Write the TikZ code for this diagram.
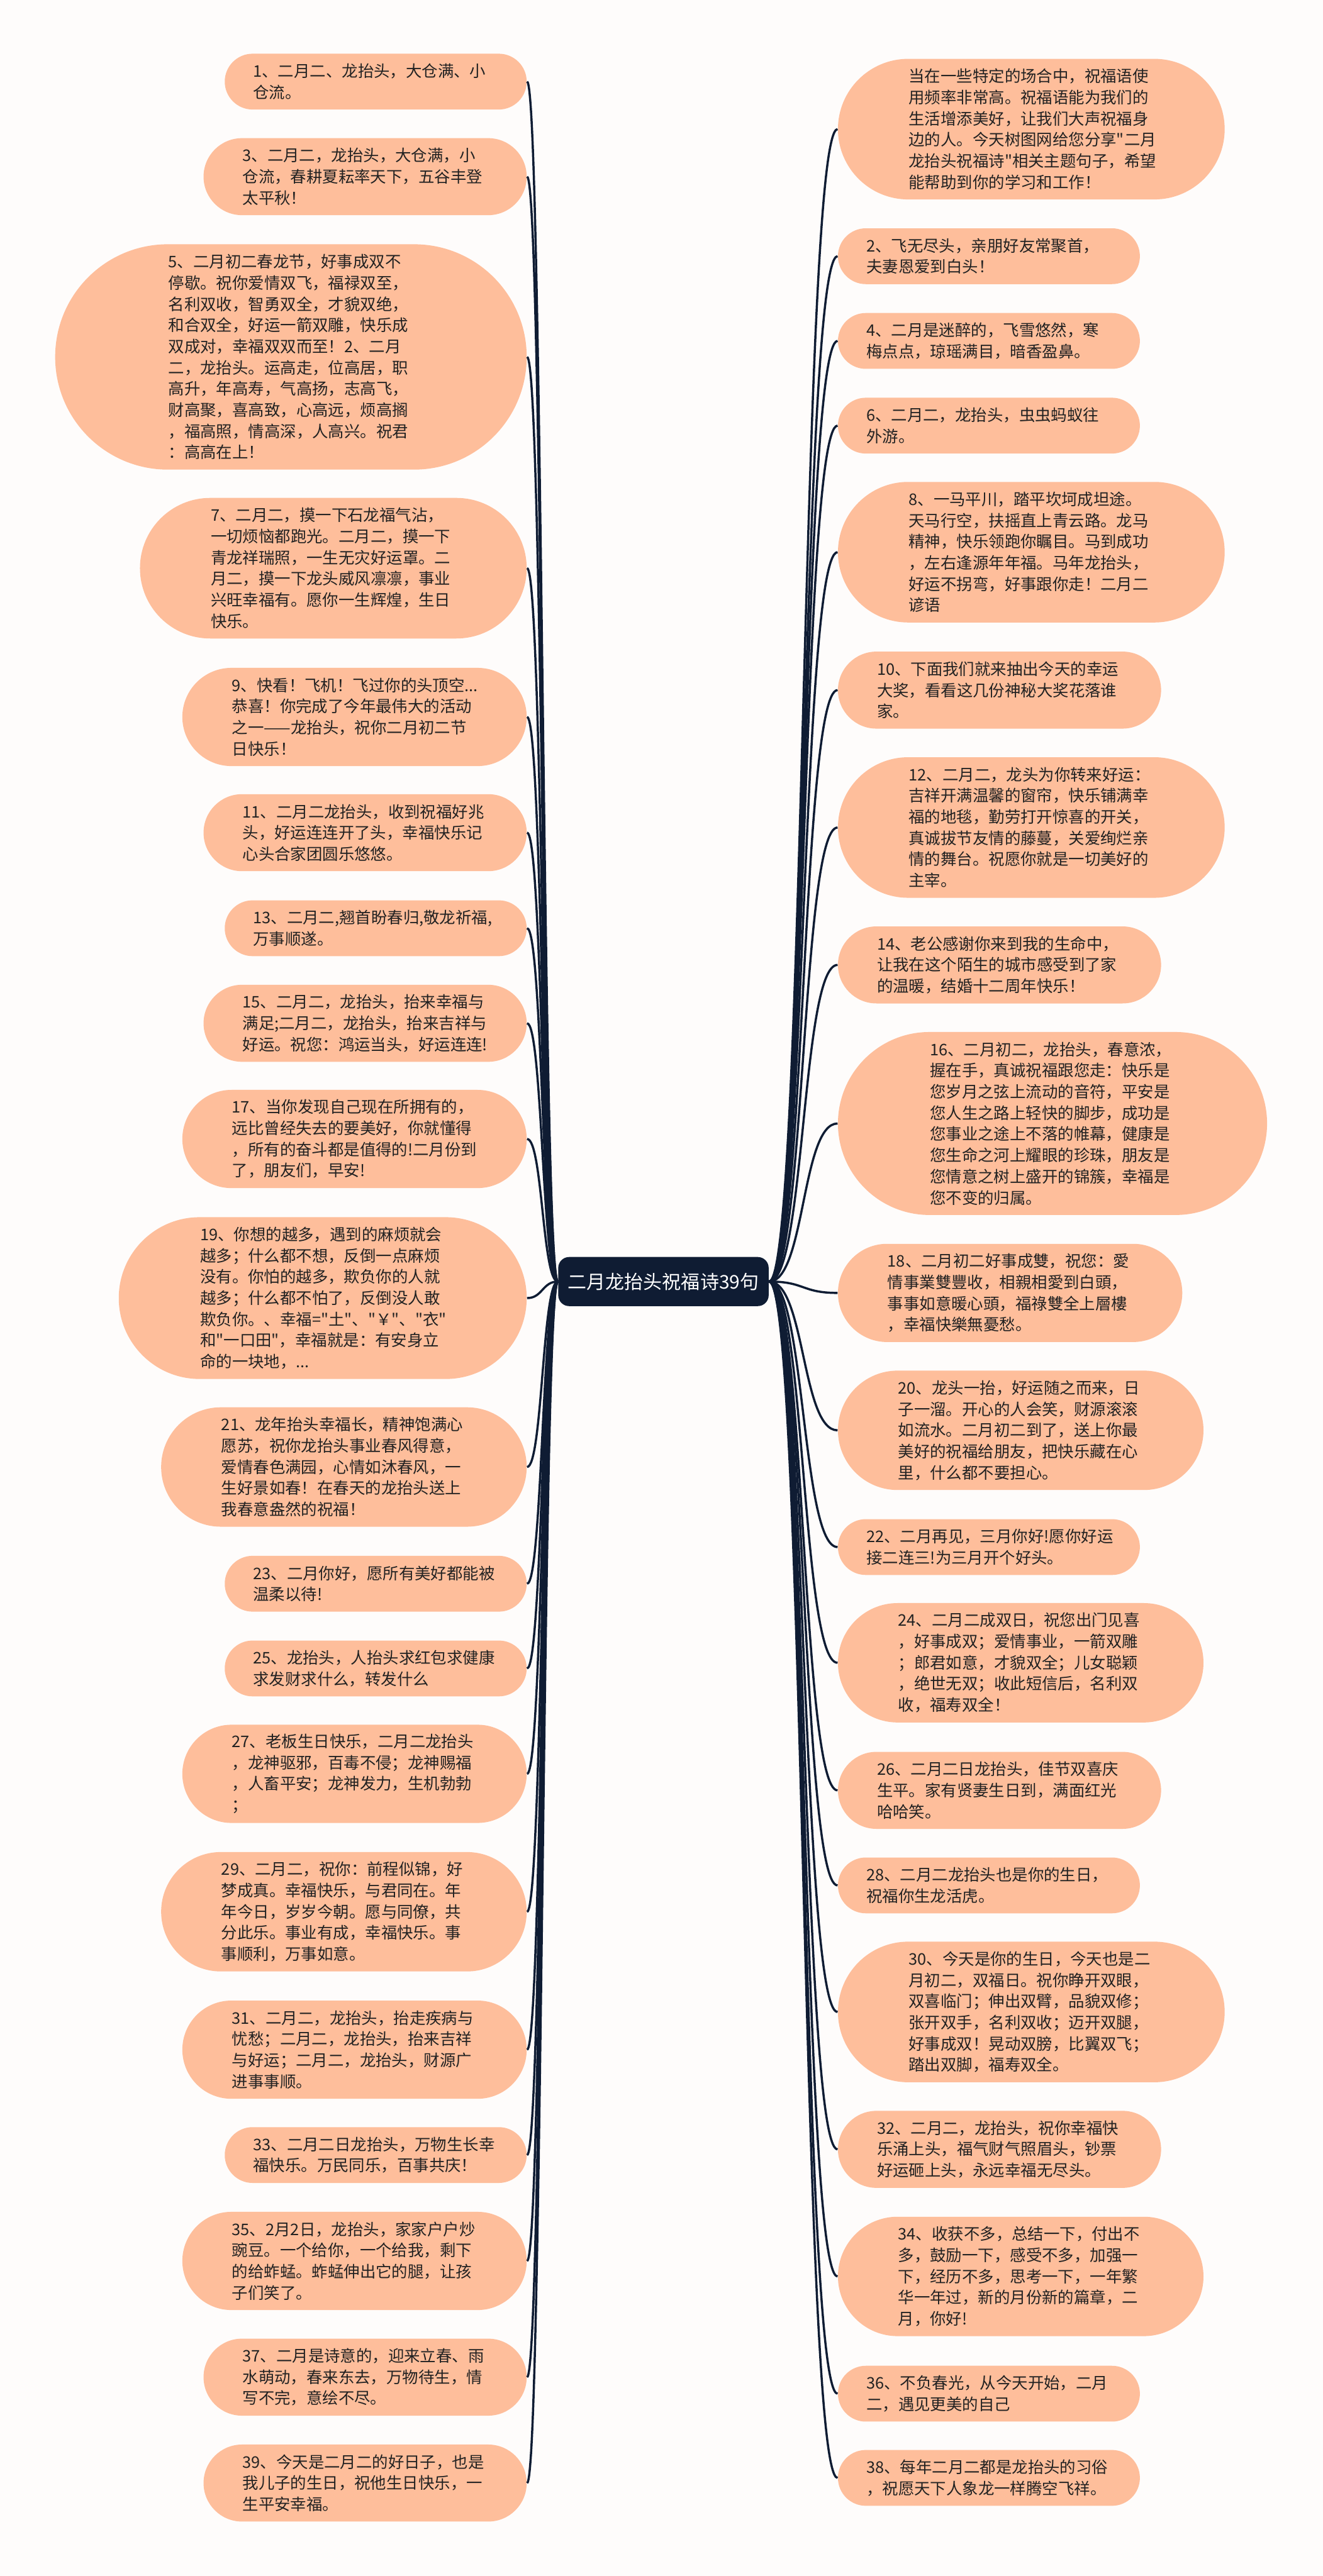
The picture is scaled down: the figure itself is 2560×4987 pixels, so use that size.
\documentclass[tikz,border=0pt]{standalone}
\usepackage{fontspec}
\newfontfamily\cjk{Noto Sans CJK SC}
\definecolor{fundo}{HTML}{FEFCFB}
\definecolor{laranja}{HTML}{FEBE9B}
\definecolor{marinho}{HTML}{0F1C33}
\definecolor{texto}{HTML}{222222}
\newcommand{\ramo}{\draw[line width=1.2pt,color=marinho]}
\tikzset{
  % #1 = número de linhas do texto
  folha/.style={rectangle, fill=laranja, text=texto, align=left,
    text width=4.74cm, inner ysep=0pt,
    minimum height=#1*0.41cm+0.26cm,
    rounded corners=#1*0.205cm+0.13cm,
    inner xsep=#1*0.205cm+0.14cm,
    font=\cjk\fontsize{8.8pt}{11.66pt}\selectfont},
  esq/.style={folha=#1, anchor=east},
  dir/.style={folha=#1, anchor=west},
  centro/.style={rounded corners=6pt, fill=marinho, text=white,
    minimum width=4.07cm, minimum height=0.95cm,
    font=\cjk\fontsize{10.4pt}{12pt}\selectfont}
}

\begin{document}
\begin{tikzpicture}[x=0.01cm,y=-0.01cm]
      \useasboundingbox (0,0) rectangle (2560,4987);
      \fill[fundo] (0,0) rectangle (2560,4987);

      % raiz
      \node(raiz) [centro] at (1284,2481) {二月龙抬头祝福诗39句};

      % lado esquerdo
      \node(e1)  [esq=2]  at (1020,158)  {1、二月二、龙抬头，大仓满、小\\仓流。};
      \node(e3)  [esq=3]  at (1020,342)  {3、二月二，龙抬头，大仓满，小\\仓流，春耕夏耘率天下，五谷丰登\\太平秋！};
      \node(e5)  [esq=10] at (1020,691)  {5、二月初二春龙节，好事成双不\\停歇。祝你爱情双飞，福禄双至，\\名利双收，智勇双全，才貌双绝，\\和合双全，好运一箭双雕，快乐成\\双成对，幸福双双而至！2、二月\\二，龙抬头。运高走，位高居，职\\高升，年高寿，气高扬，志高飞，\\财高聚，喜高致，心高远，烦高搁\\，福高照，情高深，人高兴。祝君\\：高高在上！};
      \node(e7)  [esq=6]  at (1020,1100) {7、二月二，摸一下石龙福气沾，\\一切烦恼都跑光。二月二，摸一下\\青龙祥瑞照，一生无灾好运罩。二\\月二，摸一下龙头威风凛凛，事业\\兴旺幸福有。愿你一生辉煌，生日\\快乐。};
      \node(e9)  [esq=4]  at (1020,1388) {9、快看！飞机！飞过你的头顶空...\\恭喜！你完成了今年最伟大的活动\\之一——龙抬头，祝你二月初二节\\日快乐！};
      \node(e11) [esq=3]  at (1020,1612) {11、二月二龙抬头，收到祝福好兆\\头，好运连连开了头，幸福快乐记\\心头合家团圆乐悠悠。};
      \node(e13) [esq=2]  at (1020,1797) {13、二月二,翘首盼春归,敬龙祈福,\\万事顺遂。};
      \node(e15) [esq=3]  at (1020,1981) {15、二月二，龙抬头，抬来幸福与\\满足;二月二，龙抬头，抬来吉祥与\\好运。祝您：鸿运当头，好运连连!};
      \node(e17) [esq=4]  at (1020,2205) {17、当你发现自己现在所拥有的，\\远比曾经失去的要美好，你就懂得\\，所有的奋斗都是值得的!二月份到\\了，朋友们，早安!};
      \node(e19) [esq=7]  at (1020,2513) {19、你想的越多，遇到的麻烦就会\\越多；什么都不想，反倒一点麻烦\\没有。你怕的越多，欺负你的人就\\越多；什么都不怕了，反倒没人敢\\欺负你。、幸福="土"、"￥"、"衣"\\和"一口田"，幸福就是：有安身立\\命的一块地，...};
      \node(e21) [esq=5]  at (1020,2840) {21、龙年抬头幸福长，精神饱满心\\愿苏，祝你龙抬头事业春风得意，\\爱情春色满园，心情如沐春风，一\\生好景如春！在春天的龙抬头送上\\我春意盎然的祝福！};
      \node(e23) [esq=2]  at (1020,3066) {23、二月你好，愿所有美好都能被\\温柔以待!};
      \node(e25) [esq=2]  at (1020,3230) {25、龙抬头，人抬头求红包求健康\\求发财求什么，转发什么};
      \node(e27) [esq=4]  at (1020,3434) {27、老板生日快乐，二月二龙抬头\\，龙神驱邪，百毒不侵；龙神赐福\\，人畜平安；龙神发力，生机勃勃\\；};
      \node(e29) [esq=5]  at (1020,3701) {29、二月二，祝你：前程似锦，好\\梦成真。幸福快乐，与君同在。年\\年今日，岁岁今朝。愿与同僚，共\\分此乐。事业有成，幸福快乐。事\\事顺利，万事如意。};
      \node(e31) [esq=4]  at (1020,3968) {31、二月二，龙抬头，抬走疾病与\\忧愁；二月二，龙抬头，抬来吉祥\\与好运；二月二，龙抬头，财源广\\进事事顺。};
      \node(e33) [esq=2]  at (1020,4172) {33、二月二日龙抬头，万物生长幸\\福快乐。万民同乐，百事共庆！};
      \node(e35) [esq=4]  at (1020,4377) {35、2月2日，龙抬头，家家户户炒\\豌豆。一个给你，一个给我，剩下\\的给蚱蜢。蚱蜢伸出它的腿，让孩\\子们笑了。};
      \node(e37) [esq=3]  at (1020,4602) {37、二月是诗意的，迎来立春、雨\\水萌动，春来东去，万物待生，情\\写不完，意绘不尽。};
      \node(e39) [esq=3]  at (1020,4807) {39、今天是二月二的好日子，也是\\我儿子的生日，祝他生日快乐，一\\生平安幸福。};

      % lado direito
      \node(d0)  [dir=6]  at (1621,250)  {当在一些特定的场合中，祝福语使\\用频率非常高。祝福语能为我们的\\生活增添美好，让我们大声祝福身\\边的人。今天树图网给您分享"二月\\龙抬头祝福诗"相关主题句子，希望\\能帮助到你的学习和工作！};
      \node(d2)  [dir=2]  at (1621,496)  {2、飞无尽头，亲朋好友常聚首，\\夫妻恩爱到白头！};
      \node(d4)  [dir=2]  at (1621,660)  {4、二月是迷醉的，飞雪悠然，寒\\梅点点，琼瑶满目，暗香盈鼻。};
      \node(d6)  [dir=2]  at (1621,824)  {6、二月二，龙抬头，虫虫蚂蚁往\\外游。};
      \node(d8)  [dir=6]  at (1621,1069) {8、一马平川，踏平坎坷成坦途。\\天马行空，扶摇直上青云路。龙马\\精神，快乐领跑你瞩目。马到成功\\，左右逢源年年福。马年龙抬头，\\好运不拐弯，好事跟你走！二月二\\谚语};
      \node(d10) [dir=3]  at (1621,1336) {10、下面我们就来抽出今天的幸运\\大奖，看看这几份神秘大奖花落谁\\家。};
      \node(d12) [dir=6]  at (1621,1602) {12、二月二，龙头为你转来好运：\\吉祥开满温馨的窗帘，快乐铺满幸\\福的地毯，勤劳打开惊喜的开关，\\真诚拔节友情的藤蔓，关爱绚烂亲\\情的舞台。祝愿你就是一切美好的\\主宰。};
      \node(d14) [dir=3]  at (1621,1868) {14、老公感谢你来到我的生命中，\\让我在这个陌生的城市感受到了家\\的温暖，结婚十二周年快乐！};
      \node(d16) [dir=8]  at (1621,2175) {16、二月初二，龙抬头，春意浓，\\握在手，真诚祝福跟您走：快乐是\\您岁月之弦上流动的音符，平安是\\您人生之路上轻快的脚步，成功是\\您事业之途上不落的帷幕，健康是\\您生命之河上耀眼的珍珠，朋友是\\您情意之树上盛开的锦簇，幸福是\\您不变的归属。};
      \node(d18) [dir=4]  at (1621,2503) {18、二月初二好事成雙，祝您：愛\\情事業雙豐收，相親相愛到白頭，\\事事如意暖心頭，福祿雙全上層樓\\，幸福快樂無憂愁。};
      \node(d20) [dir=5]  at (1621,2769) {20、龙头一抬，好运随之而来，日\\子一溜。开心的人会笑，财源滚滚\\如流水。二月初二到了，送上你最\\美好的祝福给朋友，把快乐藏在心\\里，什么都不要担心。};
      \node(d22) [dir=2]  at (1621,2995) {22、二月再见，三月你好!愿你好运\\接二连三!为三月开个好头。};
      \node(d24) [dir=5]  at (1621,3219) {24、二月二成双日，祝您出门见喜\\，好事成双；爱情事业，一箭双雕\\；郎君如意，才貌双全；儿女聪颖\\，绝世无双；收此短信后，名利双\\收，福寿双全！};
      \node(d26) [dir=3]  at (1621,3466) {26、二月二日龙抬头，佳节双喜庆\\生平。家有贤妻生日到，满面红光\\哈哈笑。};
      \node(d28) [dir=2]  at (1621,3650) {28、二月二龙抬头也是你的生日，\\祝福你生龙活虎。};
      \node(d30) [dir=6]  at (1621,3895) {30、今天是你的生日，今天也是二\\月初二，双福日。祝你睁开双眼，\\双喜临门；伸出双臂，品貌双修；\\张开双手，名利双收；迈开双腿，\\好事成双！晃动双膀，比翼双飞；\\踏出双脚，福寿双全。};
      \node(d32) [dir=3]  at (1621,4161) {32、二月二，龙抬头，祝你幸福快\\乐涌上头，福气财气照眉头，钞票\\好运砸上头，永远幸福无尽头。};
      \node(d34) [dir=5]  at (1621,4407) {34、收获不多，总结一下，付出不\\多，鼓励一下，感受不多，加强一\\下，经历不多，思考一下，一年繁\\华一年过，新的月份新的篇章，二\\月，你好!};
      \node(d36) [dir=2]  at (1621,4634) {36、不负春光，从今天开始，二月\\二，遇见更美的自己};
      \node(d38) [dir=2]  at (1621,4797) {38、每年二月二都是龙抬头的习俗\\，祝愿天下人象龙一样腾空飞祥。};

      % ligações
      \foreach \n in {1,3,...,39}
        \ramo (raiz.west) .. controls +(-30,0) and +(30,0) .. (e\n.east);
      \foreach \n in {0,2,...,38}
        \ramo (raiz.east) .. controls +(70,0) and +(-70,0) .. (d\n.west);
   \end{tikzpicture}
\end{document}
